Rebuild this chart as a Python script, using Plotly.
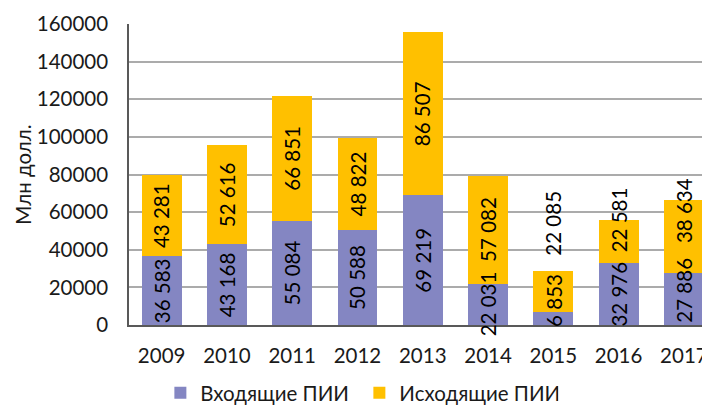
import plotly.graph_objects as go

years = ["2009", "2010", "2011", "2012", "2013", "2014", "2015", "2016", "2017"]
inward = [36583, 43168, 55084, 50588, 69219, 22031, 6853, 32976, 27886]
outward = [43281, 52616, 66851, 48822, 86507, 57082, 22085, 22581, 38634]
y_ticks = [0, 20000, 40000, 60000, 80000, 100000, 120000, 140000, 160000]

# label nudges in pixels (as placed in the reference), keyed by year
inward_label_shift = {"2015": 18, "2017": 9}
outward_label_shift = {"2015": 68, "2016": 22, "2017": 26}


def fmt(v):
    return f"{v:,}".replace(",", " ")


FONT = "Lato, 'Open Sans', sans-serif"
FS = 20.5
TXT = "#1a1a1a"

fig = go.Figure()
fig.add_trace(go.Bar(
    x=years, y=inward, name="Входящие ПИИ",
    marker=dict(color="#8486C2", line=dict(width=0)),
    width=0.61,
))
fig.add_trace(go.Bar(
    x=years, y=outward, name="Исходящие ПИИ",
    marker=dict(color="#FFC000", line=dict(width=0)),
    width=0.61,
))

annotations = []
for i, (yr, a, b) in enumerate(zip(years, inward, outward)):
    annotations.append(dict(
        x=i, y=a / 2, xref="x", yref="y", text=fmt(a), showarrow=False,
        textangle=-90, yshift=inward_label_shift.get(yr, 0),
        font=dict(family=FONT, size=FS, color="#000000"),
    ))
    annotations.append(dict(
        x=i, y=a + b / 2, xref="x", yref="y", text=fmt(b), showarrow=False,
        textangle=-90, yshift=outward_label_shift.get(yr, 0),
        font=dict(family=FONT, size=FS, color="#000000"),
    ))

# the page body keeps an 8px default margin, so the figure is sized to fit
fig.update_layout(
    barmode="stack",
    width=702, height=398,
    margin=dict(l=121, r=0, t=16, b=81, autoexpand=False),
    paper_bgcolor="white", plot_bgcolor="white",
    font=dict(family=FONT, size=FS, color=TXT),
    showlegend=True,
    annotations=annotations,
    legend=dict(
        orientation="h", x=0.054, xanchor="left", y=-0.226, yanchor="middle",
        font=dict(family=FONT, size=FS, color=TXT),
        entrywidth=154, entrywidthmode="pixels",
        traceorder="normal",
    ),
    xaxis=dict(
        type="category",
        range=[-0.5, 8.4], showline=True, linecolor="#595959", linewidth=1.5,
        ticks="", ticklabelstandoff=12, showgrid=False, automargin=False,
        tickfont=dict(family=FONT, size=FS, color=TXT),
    ),
    yaxis=dict(
        range=[0, 160000], tickvals=y_ticks, tickformat="d",
        showline=True, linecolor="#595959", linewidth=1.5,
        showgrid=True, gridcolor="#ABABAB", gridwidth=1.5,
        zeroline=False, ticks="", ticklabelstandoff=15, automargin=False,
        tickfont=dict(family=FONT, size=FS, color=TXT),
        title=dict(text="Млн долл.", standoff=0,
                   font=dict(family=FONT, size=FS, color=TXT)),
    ),
)

fig.write_html("out.html")
